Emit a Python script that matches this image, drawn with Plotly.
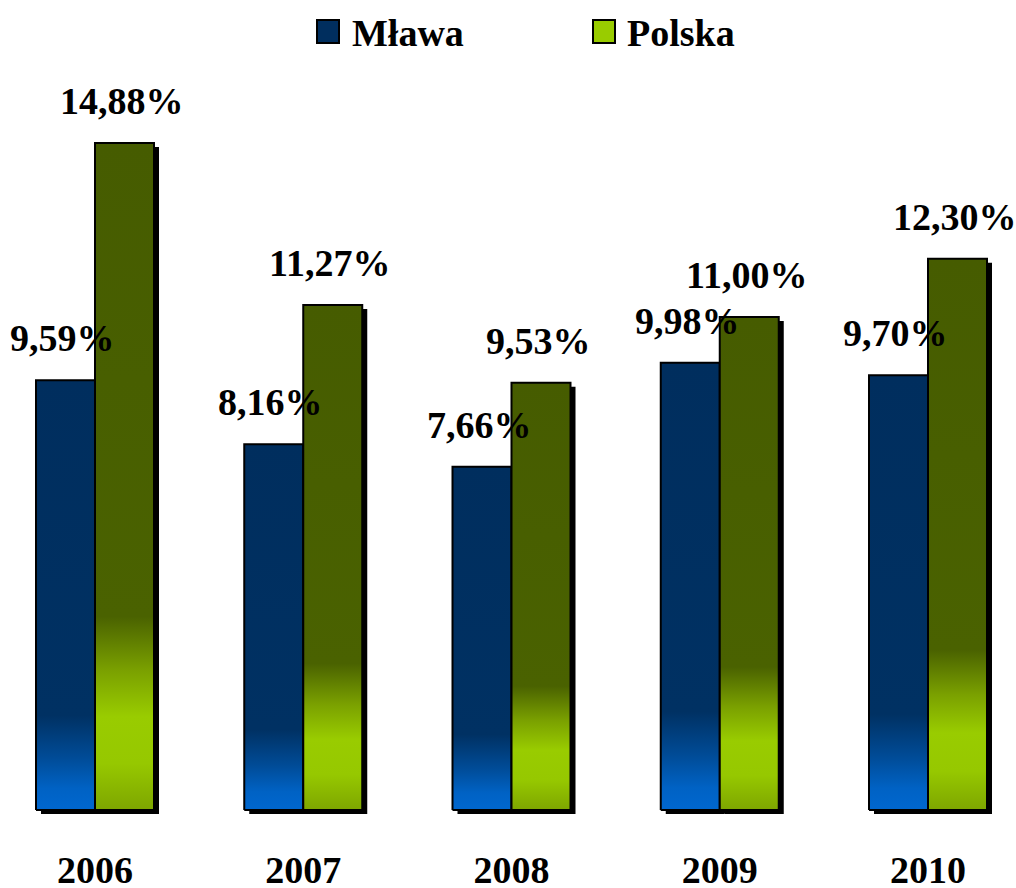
import plotly.graph_objects as go

# ---- data ----
years = ["2006", "2007", "2008", "2009", "2010"]
series_names = ["Mława", "Polska"]
mlawa = [9.59, 8.16, 7.66, 9.98, 9.70]
polska = [14.88, 11.27, 9.53, 11.00, 12.30]
mlawa_labels = ["9,59%", "8,16%", "7,66%", "9,98%", "9,70%"]
polska_labels = ["14,88%", "11,27%", "9,53%", "11,00%", "12,30%"]

# ---- style ----
W, H = 1016, 888
FONT = "Liberation Serif"
ppx = 208.25          # px per category unit
ppy = 44.82           # px per percent unit
y0_px = 810           # pixel row of zero
b_margin = 56
x_lo = -95 / ppx
x_hi = x_lo + W / ppx
plot_bottom = H - b_margin
y_lo = -(plot_bottom - y0_px) / ppy
y_hi = y0_px / ppy

bw = 59 / ppx         # bar width (category units)
sdx = 5 / ppx         # shadow offset
sdy = 4 / ppy

blue_scale = [[0, "#0067cf"], [0.05, "#0062c4"], [0.12, "#004c98"],
              [0.22, "#003163"], [1, "#002e5e"]]
green_scale = [[0, "#7ea600"], [0.07, "#96c800"], [0.14, "#99cc00"],
               [0.21, "#7aa000"], [0.29, "#4a6200"], [1, "#465c00"]]

fig = go.Figure()

def rect(x0, x1, y0, y1):
    return [x0, x1, x1, x0, x0], [y0, y0, y1, y1, y0]

# shadows
sx, sy = [], []
for i in range(len(years)):
    for (v, x0, x1) in ((mlawa[i], i - bw, i), (polska[i], i, i + bw)):
        xs, ys = rect(x0 + sdx, x1 + sdx, -sdy, v - sdy)
        sx += xs + [None]
        sy += ys + [None]
fig.add_trace(go.Scatter(x=sx, y=sy, mode="lines", fill="toself",
                         fillcolor="black", line=dict(color="black", width=0),
                         hoverinfo="skip", showlegend=False))

# bars
for i in range(len(years)):
    for (v, x0, x1, cs, nm) in ((mlawa[i], i - bw, i, blue_scale, series_names[0]),
                                (polska[i], i, i + bw, green_scale, series_names[1])):
        xs, ys = rect(x0, x1, 0, v)
        fig.add_trace(go.Scatter(
            x=xs, y=ys, mode="lines", fill="toself",
            fillgradient=dict(type="vertical", colorscale=cs, start=0, stop=v),
            line=dict(color="black", width=2),
            name=nm, showlegend=False,
            hovertemplate=f"{nm} {years[i]}: {v}%<extra></extra>"))

# data labels
for i in range(len(years)):
    for (v, lab, xc) in ((mlawa[i], mlawa_labels[i], i - bw / 2),
                         (polska[i], polska_labels[i], i + bw / 2)):
        fig.add_annotation(x=xc, y=v, text=lab, showarrow=False,
                           yanchor="middle", xanchor="center",
                           yshift=42, xshift=-3,
                           font=dict(family=FONT, size=38, color="black", weight="bold"))

# manual legend
leg = [(series_names[0], "#002e5e", 317, 339, 350),
       (series_names[1], "#99cc00", 593, 615, 625)]
def py(p):
    return (plot_bottom - p) / (plot_bottom - 0)
for nm, col, xa, xb, xt in leg:
    fig.add_shape(type="rect", xref="paper", yref="paper",
                  x0=xa / W, x1=xb / W, y0=py(43), y1=py(20),
                  fillcolor=col, line=dict(color="black", width=2))
    fig.add_annotation(xref="paper", yref="paper", x=xt / W, y=py(33),
                       text=nm, showarrow=False, xanchor="left", yanchor="middle",
                       font=dict(family=FONT, size=38, color="black", weight="bold"))

fig.update_layout(
    width=W, height=H,
    margin=dict(l=0, r=0, t=0, b=b_margin, pad=0),
    plot_bgcolor="white", paper_bgcolor="white",
    showlegend=False,
    xaxis=dict(range=[x_lo, x_hi], tickvals=list(range(len(years))), ticktext=years,
               showgrid=False, zeroline=False, showline=False, ticks="",
               ticklabelstandoff=12, automargin=False,
               tickfont=dict(family=FONT, size=38, color="black", weight="bold")),
    yaxis=dict(range=[y_lo, y_hi], visible=False, fixedrange=True),
)

fig.write_html("out.html", config={"displayModeBar": False},
               post_script="document.body.style.margin='0';document.body.style.overflow='hidden';")
